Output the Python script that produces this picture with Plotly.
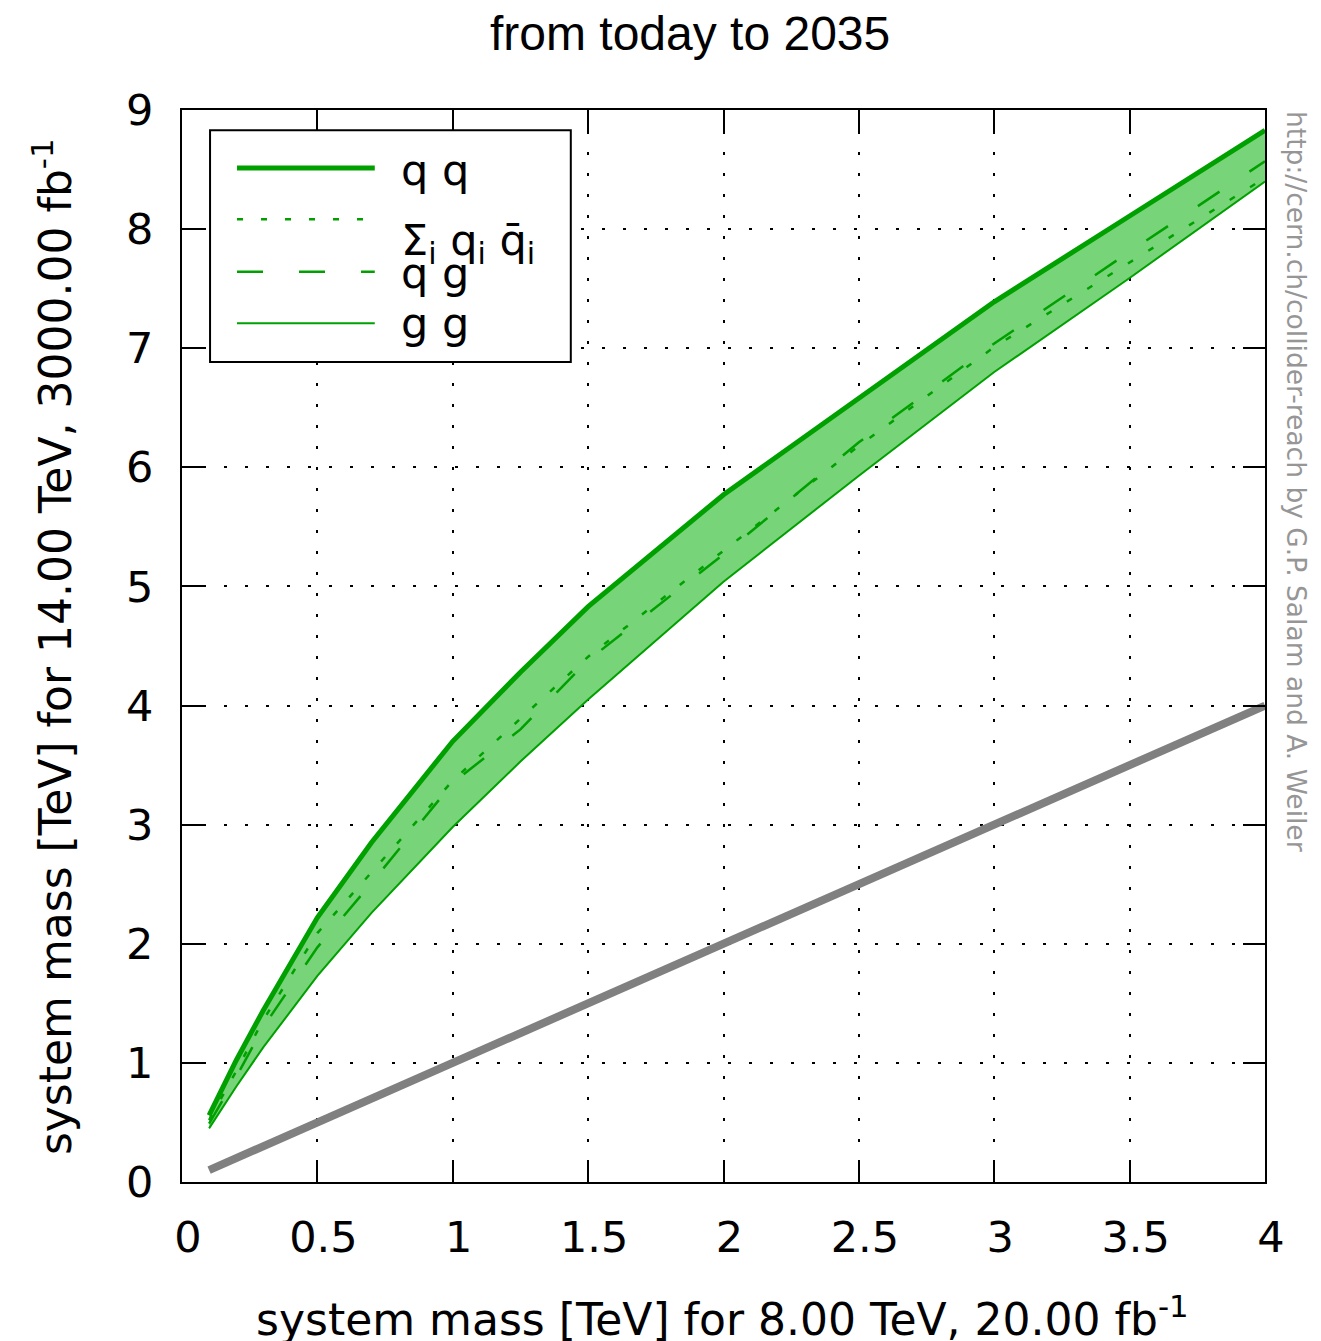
import plotly.graph_objects as go

# Reach at 14 TeV / 3000 fb^-1 vs mass reach at 8 TeV / 20 fb^-1
mass_8tev = [0.1, 0.2, 0.3, 0.5, 0.7, 1.0, 1.25, 1.5, 2.0, 2.5, 3.0, 3.5, 4.0]
reach_qq = [0.56, 1.02, 1.44, 2.22, 2.85, 3.70, 4.28, 4.83, 5.77, 6.58, 7.39, 8.11, 8.83]
reach_qqbar = [0.52, 0.93, 1.36, 2.09, 2.60, 3.37, 3.89, 4.41, 5.30, 6.18, 7.01, 7.72, 8.43]
reach_qg = [0.49, 0.88, 1.30, 1.97, 2.51, 3.35, 3.80, 4.38, 5.27, 6.21, 7.04, 7.81, 8.57]
reach_gg = [0.45, 0.80, 1.13, 1.73, 2.26, 2.98, 3.53, 4.05, 5.04, 5.93, 6.80, 7.59, 8.40]
diag_x = [0.1, 4.0]
diag_y = [0.1, 4.0]

x_ticks = [0, 0.5, 1, 1.5, 2, 2.5, 3, 3.5, 4]
x_tick_text = ["0", "0.5", "1", "1.5", "2", "2.5", "3", "3.5", "4"]
y_ticks = [0, 1, 2, 3, 4, 5, 6, 7, 8, 9]

GREEN = "rgb(0,160,0)"
FILL = "rgb(120,212,120)"
FONT = "DejaVu Sans"

fig = go.Figure()

# band between gg and qq
fig.add_trace(go.Scatter(x=mass_8tev, y=reach_gg, mode="lines",
                         line=dict(width=0), showlegend=False, hoverinfo="skip"))
fig.add_trace(go.Scatter(x=mass_8tev, y=reach_qq, mode="lines", fill="tonexty",
                         fillcolor=FILL, line=dict(width=0), showlegend=False,
                         hoverinfo="skip"))

fig.add_trace(go.Scatter(x=mass_8tev, y=reach_qq, mode="lines", name="q q",
                         line=dict(color=GREEN, width=5)))
fig.add_trace(go.Scatter(x=mass_8tev, y=reach_qqbar, mode="lines", name="qqbar",
                         line=dict(color=GREEN, width=2.5, dash="6px,18px")))
fig.add_trace(go.Scatter(x=mass_8tev, y=reach_qg, mode="lines", name="q g",
                         line=dict(color=GREEN, width=2.5, dash="26px,36px")))
fig.add_trace(go.Scatter(x=mass_8tev, y=reach_gg, mode="lines", name="g g",
                         line=dict(color=GREEN, width=2)))
fig.add_trace(go.Scatter(x=diag_x, y=diag_y, mode="lines", name="same",
                         line=dict(color="rgb(128,128,128)", width=8)))

axis_common = dict(
    showline=True, linecolor="black", linewidth=2, mirror="ticks",
    ticks="inside", ticklen=22, tickwidth=2, tickcolor="black",
    showgrid=True, gridcolor="black", gridwidth=1.5, griddash="3px,18px",
    zeroline=False, tickfont=dict(family=FONT, size=43, color="black"),
)

fig.update_xaxes(range=[0, 4], tickvals=x_ticks, ticktext=x_tick_text,
                 ticklabelstandoff=16, ticklabelshift=6, **axis_common)
fig.update_yaxes(range=[0, 9], tickvals=y_ticks, ticklabelstandoff=18,
                 **axis_common)

# legend box drawn in paper coordinates
shapes = [dict(type="rect", xref="paper", yref="paper", x0=0.0259, x1=0.359,
               y0=0.765, y1=0.981, line=dict(color="black", width=2),
               fillcolor="white", layer="above")]
legend_rows = [
    (0.946, 5, "solid", "q q", 0.944),
    (0.898, 2.5, "6px,18px", "Σ<sub>i</sub> q<sub>i</sub> q̄<sub>i</sub>", 0.876),
    (0.849, 2.5, "26px,36px", "q g", 0.848),
    (0.801, 2, "solid", "g g", 0.801),
]
annotations = []
for ly, w, d, label, ty in legend_rows:
    shapes.append(dict(type="line", xref="paper", yref="paper", x0=0.0508,
                       x1=0.178, y0=ly, y1=ly, layer="above",
                       line=dict(color=GREEN, width=w, dash=d)))
    annotations.append(dict(text=label, xref="paper", yref="paper", x=0.2,
                            y=ty, xanchor="left", yanchor="middle",
                            showarrow=False,
                            font=dict(family=FONT, size=43, color="black")))

annotations += [
    dict(text="from today to 2035", xref="paper", yref="paper", x=0.469,
         y=1.0718, xanchor="center", yanchor="middle", showarrow=False,
         font=dict(family="Liberation Sans", size=48, color="black")),
    dict(text="system mass [TeV] for 8.00 TeV, 20.00 fb<sup>-1</sup>",
         xref="paper", yref="paper", x=0.4995, y=-0.125, xanchor="center",
         yanchor="middle", showarrow=False,
         font=dict(family=FONT, size=44, color="black")),
    dict(text="system mass [TeV] for 14.00 TeV, 3000.00 fb<sup>-1</sup>",
         xref="paper", yref="paper", x=-0.12, y=0.499, xanchor="center",
         yanchor="middle", textangle=-90, showarrow=False,
         font=dict(family=FONT, size=44, color="black")),
    dict(text="http://cern.ch/collider-reach by G.P. Salam and A. Weiler",
         xref="paper", yref="paper", x=1.0286, y=0.653, xanchor="center",
         yanchor="middle", textangle=90, showarrow=False,
         font=dict(family=FONT, size=26.5, color="rgb(150,150,150)")),
]

fig.update_layout(
    width=1321, height=1341,
    margin=dict(l=182, r=56, t=110, b=159),
    plot_bgcolor="white", paper_bgcolor="white",
    showlegend=False, shapes=shapes, annotations=annotations,
)

fig.write_html("out.html")
